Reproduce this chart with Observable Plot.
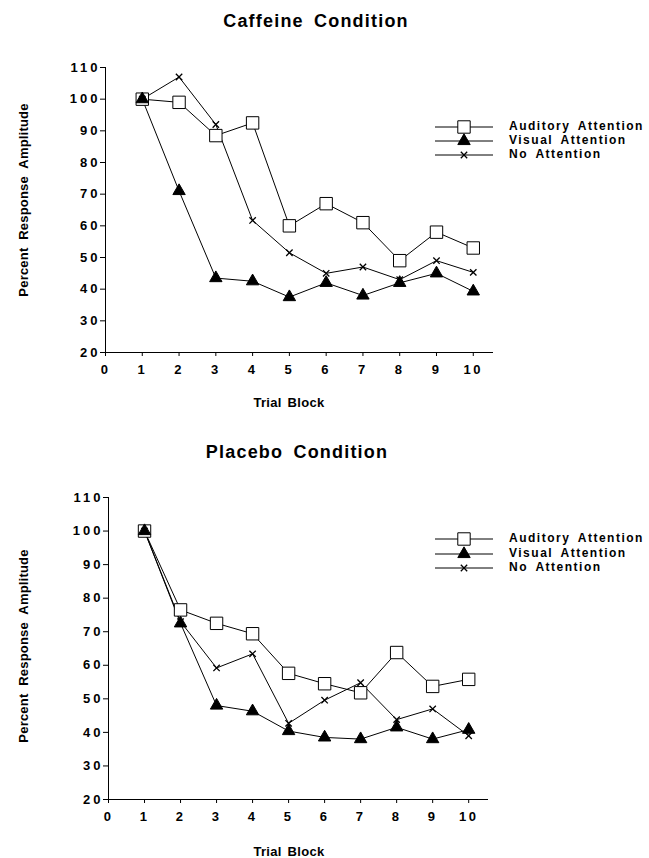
<!DOCTYPE html>
<html><head><meta charset="utf-8">
<script src="https://cdn.jsdelivr.net/npm/d3@7"></script>
<script src="https://cdn.jsdelivr.net/npm/@observablehq/plot@0.6"></script>
<style>
body{margin:0;background:#fff;}
#fig{position:relative;width:649px;height:858px;background:#fff;font-family:"Liberation Sans",Arial,sans-serif;font-weight:bold;color:#000;overflow:hidden;}
.abs{position:absolute;line-height:1;white-space:nowrap;transform:translate(-50%,-50%);}
.title{font-size:18px;letter-spacing:1.2px;word-spacing:4px;}
.xlab{font-size:13px;letter-spacing:0.3px;word-spacing:2px;}
.ylab{font-size:13px;letter-spacing:0.2px;word-spacing:4px;transform:translate(-50%,-50%) rotate(-90deg);}
.chart{position:absolute;left:0;}
.chart g[aria-label="y-axis tick label"] text{letter-spacing:3px;}
.chart g[aria-label="x-axis tick label"] text{letter-spacing:2.5px;}
.legend{position:absolute;left:0;top:0;overflow:visible;}
.legend text{font-family:"Liberation Sans",Arial,sans-serif;font-weight:bold;font-size:12px;letter-spacing:1.5px;word-spacing:3px;}
</style>
</head><body>
<div id="fig"></div>
<script>
const trials = [1,2,3,4,5,6,7,8,9,10];
const seriesNames = ["Auditory Attention","Visual Attention","No Attention"];
const caffeineAuditory = [100, 99, 88.5, 92.5, 60, 67, 61, 49, 58, 53];
const caffeineVisual   = [100, 71, 43.5, 42.5, 37.5, 42, 38, 42, 45, 39.3];
const caffeineNone     = [100, 107, 92, 61.7, 51.5, 45, 47, 43, 49, 45.3];
const placeboAuditory  = [100, 76.5, 72.5, 69.4, 57.6, 54.5, 51.8, 63.8, 53.7, 55.8];
const placeboVisual    = [100, 72.5, 48, 46.3, 40.4, 38.5, 38, 41.5, 38, 40.8];
const placeboNone      = [100, 73, 59.2, 63.4, 42.7, 49.6, 54.8, 43.8, 47, 39];
const yTicks = [20,30,40,50,60,70,80,90,100,110];
const xTicks = [0,1,2,3,4,5,6,7,8,9,10];
const titles = ["Caffeine Condition","Placebo Condition"];
const xLabel = "Trial Block";
const yLabel = "Percent Response Amplitude";

const symbolStyles = [
  {symbol:"square", r:7, fill:"white", stroke:"black", strokeWidth:1},
  {symbol:"triangle", r:4.6, fill:"black", stroke:"black", strokeWidth:1},
  {symbol:"times", r:3, fill:"none", stroke:"black", strokeWidth:1.3}
];

function rows(values){ return trials.map((t,i)=>({trial:t, value:values[i]})); }

function chart(series, opts){
  const marks = [
    Plot.ruleX([0], {stroke:"black", strokeWidth:1}),
    Plot.ruleY([20], {stroke:"black", strokeWidth:1}),
    Plot.axisY({ticks:yTicks, tickSize:5, tickPadding:0, label:null, stroke:"black"}),
    Plot.axisX({ticks:xTicks, tickSize:4, tickPadding:8, label:null, stroke:"black"})
  ];
  series.forEach(v => marks.push(Plot.lineY(rows(v), {x:"trial", y:"value", stroke:"black", strokeWidth:1})));
  series.forEach((v,k) => marks.push(Plot.dot(rows(v), {x:"trial", y:"value", ...symbolStyles[k]})));
  const svg = Plot.plot({
    width:649, height:opts.height,
    marginLeft:opts.ml, marginRight:opts.mr, marginTop:opts.mt, marginBottom:opts.mb,
    x:{domain:[0,10.55], label:null},
    y:{domain:[20,110], label:null},
    style:{fontFamily:"Liberation Sans, Arial, sans-serif", fontSize:"13px", fontWeight:"bold", color:"black", background:"white", overflow:"visible"},
    marks
  });
  svg.classList.add("chart");
  svg.style.top = opts.top + "px";
  return svg;
}

const fig = document.getElementById("fig");
function addText(cls, text, x, y){
  const d = document.createElement("div");
  d.className = "abs " + cls;
  d.textContent = text;
  d.style.left = x + "px"; d.style.top = y + "px";
  fig.appendChild(d);
}

fig.appendChild(chart([caffeineAuditory, caffeineVisual, caffeineNone], {top:40, height:342, ml:105, mr:156, mt:27, mb:30}));
fig.appendChild(chart([placeboAuditory, placeboVisual, placeboNone], {top:470, height:359, ml:108, mr:161, mt:27, mb:30}));

addText("title", titles[0], 316, 21);
addText("title", titles[1], 297, 452);
addText("xlab", xLabel, 289, 402);
addText("xlab", xLabel, 289, 851);
addText("ylab", yLabel, 23, 200);
addText("ylab", yLabel, 23, 646);

// legends
const legendSvg = d3.select(fig).append("svg").attr("class","legend").attr("width",649).attr("height",858);
const d3Symbols = [d3.symbolSquare, d3.symbolTriangle, d3.symbolTimes];
const legendRows = [[127,141,155],[539,554,568]];
legendRows.forEach(ys => {
  seriesNames.forEach((name,k) => {
    const y = ys[k];
    legendSvg.append("line").attr("x1",435).attr("x2",493).attr("y1",y).attr("y2",y).attr("stroke","black");
    const st = symbolStyles[k];
    legendSvg.append("path")
      .attr("d", d3.symbol(d3Symbols[k], Math.PI*st.r*st.r)())
      .attr("transform", `translate(464,${y})`)
      .attr("fill", st.fill).attr("stroke", st.stroke).attr("stroke-width", st.strokeWidth);
    legendSvg.append("text").attr("x",509).attr("y",y+2.5).text(name);
  });
});
</script>
</body></html>
